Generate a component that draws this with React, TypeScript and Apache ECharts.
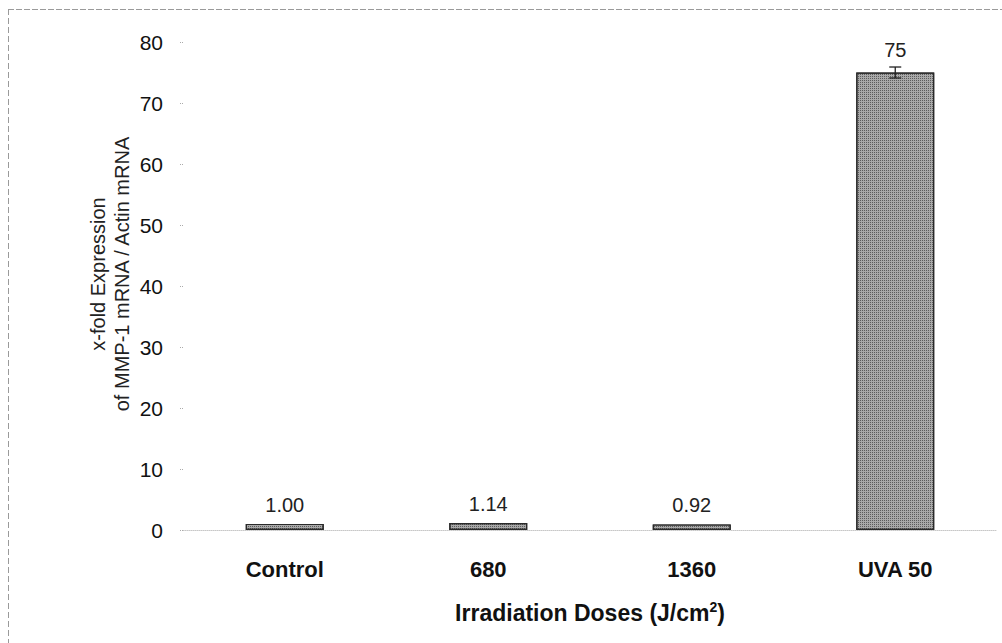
import React, { useEffect, useRef } from "react";
import * as echarts from "echarts";

const categories = ["Control", "680", "1360", "UVA 50"];
const values = [1.0, 1.14, 0.92, 75];
const valueLabels = ["1.00", "1.14", "0.92", "75"];
const errors = [0, 0, 0, 0.9];
const yTicks = [0, 10, 20, 30, 40, 50, 60, 70, 80];

const FONT = "'Liberation Sans', Arial, sans-serif";

export default function App() {
  const ref = useRef<HTMLDivElement>(null);
  useEffect(() => {
    if (!ref.current) return;
    const chart = echarts.init(ref.current, undefined, { renderer: "svg" });
    chart.setOption({
      animation: false,
      backgroundColor: "#ffffff",
      textStyle: { fontFamily: FONT },
      graphic: [
        { type: "line", shape: { x1: 8, y1: 9.5, x2: 1002, y2: 9.5 }, style: { stroke: "#9a9a9a", lineWidth: 1, lineDash: [6, 2] } },
        { type: "line", shape: { x1: 8.5, y1: 9, x2: 8.5, y2: 643 }, style: { stroke: "#9a9a9a", lineWidth: 1, lineDash: [6, 3] } },
        {
          type: "text",
          x: 110,
          y: 274,
          rotation: Math.PI / 2,
          style: {
            text: "x-fold Expression\nof MMP-1 mRNA / Actin mRNA",
            fill: "#222",
            font: `500 20px ${FONT}`,
            align: "center",
            verticalAlign: "middle",
            lineHeight: 24,
          },
        },
      ],
      grid: { left: 183, right: 5, top: 42, bottom: 113, containLabel: false },
      xAxis: {
        type: "category",
        data: categories,
        axisLine: { show: true, lineStyle: { color: "#c8c8c8", width: 1, type: "dotted" } },
        axisTick: { show: false },
        axisLabel: {
          margin: 28,
          color: "#111",
          fontSize: 22,
          fontWeight: "bold",
          fontFamily: FONT,
        },
        name: "Irradiation Doses (J/cm{sup|2})",
        nameLocation: "middle",
        nameGap: 70,
        nameTextStyle: {
          color: "#111",
          fontSize: 23,
          fontWeight: "bold",
          fontFamily: FONT,
          rich: {
            sup: { fontSize: 14, fontWeight: "bold", verticalAlign: "top", padding: [0, 0, 12, 0], color: "#111" },
          },
        },
      },
      yAxis: {
        type: "value",
        min: 0,
        max: 80,
        interval: 10,
        axisLine: { show: false },
        axisTick: { show: true, length: 4, lineStyle: { color: "#aaa", type: "dotted" } },
        splitLine: { show: false },
        axisLabel: {
          margin: 20,
          color: "#111",
          fontSize: 21,
          fontFamily: FONT,
          formatter: (v: number) => (yTicks.includes(v) ? String(v) : ""),
        },
      },
      series: [
        {
          type: "bar",
          barWidth: 78,
          data: values.map((v, i) => ({
            value: v,
            label: {
              show: true,
              position: "top",
              distance: i === 3 ? 13 : 9,
              formatter: valueLabels[i],
              color: "#222",
              fontSize: 20,
              fontFamily: FONT,
            },
          })),
          itemStyle: {
            color: "#a9a9a9",
            borderColor: "#2a2a2a",
            borderWidth: 1.2,
            decal: {
              symbol: "rect",
              symbolSize: 1,
              color: "rgba(40,40,40,0.6)",
              dashArrayX: [1, 1],
              dashArrayY: [1, 1],
              rotation: 0,
            },
          },
        },
        {
          type: "custom",
          data: values.map((v, i) => [i, v, errors[i]]),
          renderItem: (params: any, api: any) => {
            const err = api.value(2);
            if (!err) return null;
            const x = api.value(0);
            const y = api.value(1);
            const top = api.coord([x, y + err]);
            const bot = api.coord([x, y - err]);
            const hw = 6;
            const style = { stroke: "#222", lineWidth: 1.3 };
            return {
              type: "group",
              children: [
                { type: "line", shape: { x1: top[0], y1: top[1], x2: bot[0], y2: bot[1] }, style },
                { type: "line", shape: { x1: top[0] - hw, y1: top[1], x2: top[0] + hw, y2: top[1] }, style },
                { type: "line", shape: { x1: bot[0] - hw, y1: bot[1], x2: bot[0] + hw, y2: bot[1] }, style },
              ],
            };
          },
          z: 5,
        },
      ],
    });
    return () => chart.dispose();
  }, []);
  return (
    <div
      ref={ref}
      style={{ position: "absolute", left: 0, top: 0, width: 1002, height: 643 }}
    />
  );
}
